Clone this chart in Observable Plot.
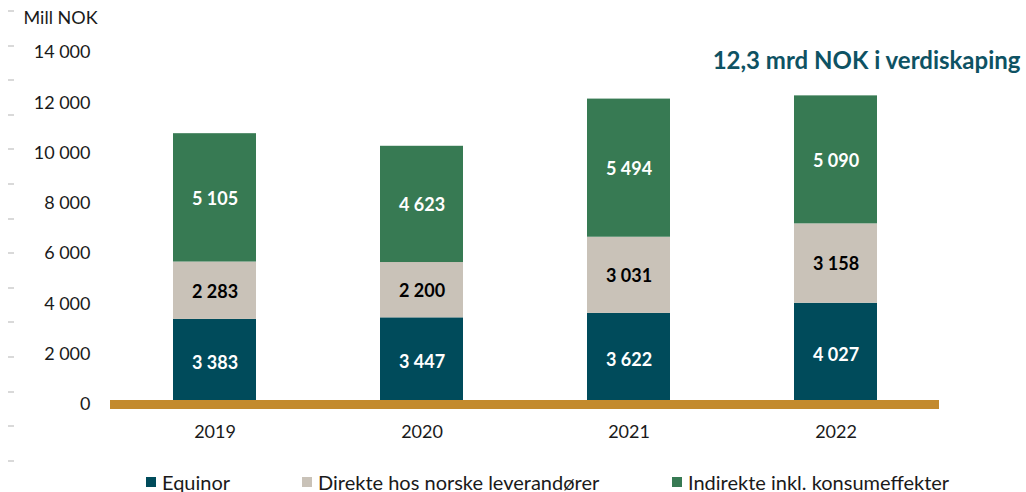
<!DOCTYPE html>
<html>
<head>
<meta charset="utf-8">
<script src="https://cdn.jsdelivr.net/npm/d3@7"></script>
<script src="https://cdn.jsdelivr.net/npm/@observablehq/plot@0.6"></script>
<style>
  html, body { margin: 0; padding: 0; background: #fff; }
  body { width: 1026px; height: 492px; overflow: hidden; position: relative; font-family: Lato, "Open Sans", sans-serif; }
  #dashes { position: absolute; left: 8px; top: 10px; width: 6px; height: 470px;
    background: repeating-linear-gradient(to bottom, #d9d9d9 0px, #d9d9d9 2px, transparent 2px, transparent 34.6px); }
  #chart { position: absolute; left: 0; top: 0; }
  #legend { position: absolute; left: 0; top: 470px; width: 1026px; height: 22px; font-size: 20px; color: #1a1a1a; }
  .item { position: absolute; top: 0; display: flex; align-items: center; white-space: nowrap; }
  .sw { width: 10px; height: 10px; margin-right: 6px; }
</style>
</head>
<body>
<div id="dashes"></div>
<div id="chart"></div>
<div id="legend"></div>
<script>
const years = ["2019", "2020", "2021", "2022"];
const series = ["Equinor", "Direkte hos norske leverandører", "Indirekte inkl. konsumeffekter"];
const equinor = [3383, 3447, 3622, 4027];
const direkte = [2283, 2200, 3031, 3158];
const indirekte = [5105, 4623, 5494, 5090];
const yTicks = [0, 2000, 4000, 6000, 8000, 10000, 12000, 14000];
const colors = ["#004b5b", "#c9c2b8", "#377a53"];
const labelColors = ["#ffffff", "#000000", "#ffffff"];
const gold = "#c38a2e";
const yLabel = "Mill NOK";
const annotation = "12,3 mrd NOK i verdiskaping";

const values = [equinor, direkte, indirekte];
const data = [];
years.forEach((yr, i) => series.forEach((s, j) => data.push({year: yr, series: s, value: values[j][i]})));

const loc = d3.formatLocale({decimal: ",", thousands: " ", grouping: [3], currency: ["", ""]});
const fmt = loc.format(",d");

const chart = Plot.plot({
  width: 1026,
  height: 450,
  marginLeft: 110,
  marginRight: 87,
  marginTop: 52,
  marginBottom: 46,
  style: {fontFamily: "Lato, 'Open Sans', sans-serif", fontSize: "18px", color: "#1a1a1a", background: "transparent", overflow: "visible"},
  x: {domain: years, paddingInner: 0.6, paddingOuter: 0.3, label: null},
  y: {domain: [0, 14000], label: null},
  color: {domain: series, range: colors},
  marks: [
    Plot.axisY({ticks: yTicks, tickSize: 0, tickPadding: 20, tickFormat: fmt, fontSize: 18}),
    Plot.axisX({tickSize: 0, tickPadding: 21, fontSize: 18}),
    Plot.barY(data, {x: "year", y: "value", fill: "series", z: "series", order: series}),
    Plot.ruleY([0], {stroke: gold, strokeWidth: 9}),
    Plot.text(data, Plot.stackY({x: "year", y: "value", z: "series", order: series,
      text: d => fmt(d.value),
      fill: d => labelColors[series.indexOf(d.series)],
      fontWeight: "bold", fontSize: 18, dy: 1})),
    Plot.text([yLabel], {frameAnchor: "top-left", textAnchor: "start", lineAnchor: "middle", dx: -87, dy: -34, fontSize: 18}),
    Plot.text([annotation], {frameAnchor: "top-right", textAnchor: "end", lineAnchor: "middle", dx: 81, dy: 9,
      fontSize: 24, fontWeight: "bold", fill: "#0e5263"})
  ]
});
document.getElementById("chart").appendChild(chart);

const lefts = [146, 302, 672];
const legend = document.getElementById("legend");
series.forEach((s, i) => {
  const it = document.createElement("div");
  it.className = "item";
  it.style.left = lefts[i] + "px";
  it.innerHTML = `<span class="sw" style="background:${colors[i]}"></span><span>${s}</span>`;
  legend.appendChild(it);
});
</script>
</body>
</html>
